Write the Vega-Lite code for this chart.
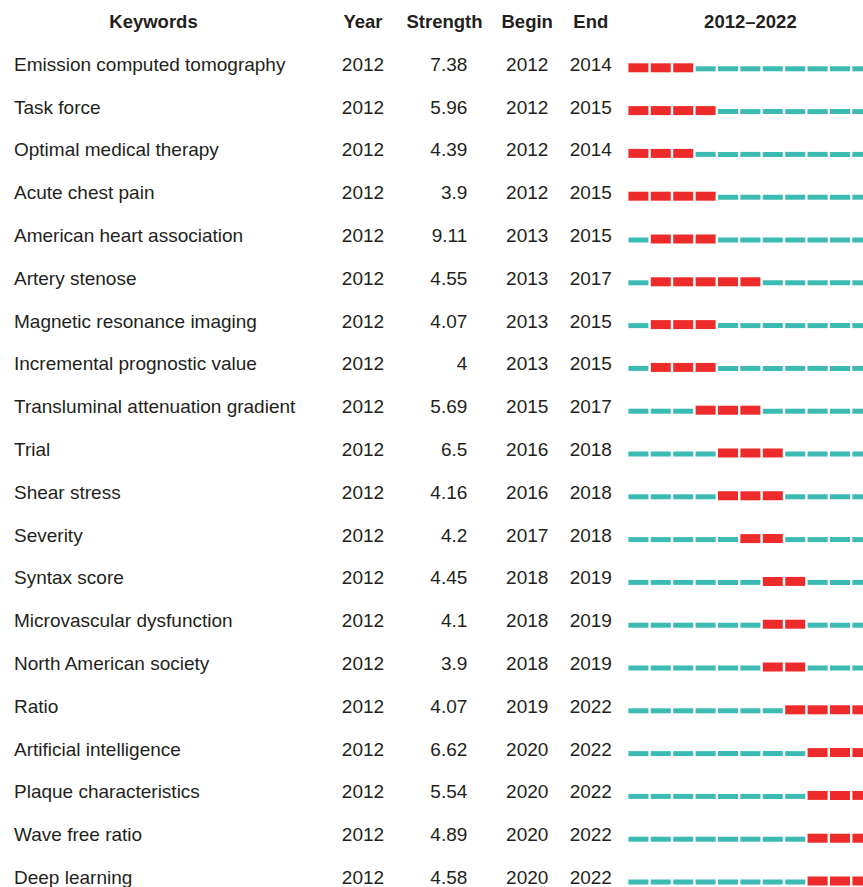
{
  "$schema": "https://vega.github.io/schema/vega-lite/v6.json",
  "padding": {"left": 14, "top": 0, "right": 0, "bottom": 0},
  "spacing": 0,
  "bounds": "flush",
  "background": "white",
  "config": {"view": {"stroke": null}, "text": {"font": "Liberation Sans", "color": "#231f20"}},
  "datasets": {
    "hdr": [
      {"keyword": "(header)", "col": "Keywords", "label": "Keywords"},
      {"keyword": "(header)", "col": "Year", "label": "Year"},
      {"keyword": "(header)", "col": "Strength", "label": "Strength"},
      {"keyword": "(header)", "col": "Begin", "label": "Begin"},
      {"keyword": "(header)", "col": "End", "label": "End"},
      {"keyword": "(header)", "col": "Timeline", "label": "2012–2022"}
    ],
    "kw": [
      {"keyword": "Emission computed tomography", "year": 2012, "strength": "7.38", "begin": 2012, "end": 2014, "years": [2012,2013,2014,2015,2016,2017,2018,2019,2020,2021,2022]},
      {"keyword": "Task force", "year": 2012, "strength": "5.96", "begin": 2012, "end": 2015, "years": [2012,2013,2014,2015,2016,2017,2018,2019,2020,2021,2022]},
      {"keyword": "Optimal medical therapy", "year": 2012, "strength": "4.39", "begin": 2012, "end": 2014, "years": [2012,2013,2014,2015,2016,2017,2018,2019,2020,2021,2022]},
      {"keyword": "Acute chest pain", "year": 2012, "strength": "3.9", "begin": 2012, "end": 2015, "years": [2012,2013,2014,2015,2016,2017,2018,2019,2020,2021,2022]},
      {"keyword": "American heart association", "year": 2012, "strength": "9.11", "begin": 2013, "end": 2015, "years": [2012,2013,2014,2015,2016,2017,2018,2019,2020,2021,2022]},
      {"keyword": "Artery stenose", "year": 2012, "strength": "4.55", "begin": 2013, "end": 2017, "years": [2012,2013,2014,2015,2016,2017,2018,2019,2020,2021,2022]},
      {"keyword": "Magnetic resonance imaging", "year": 2012, "strength": "4.07", "begin": 2013, "end": 2015, "years": [2012,2013,2014,2015,2016,2017,2018,2019,2020,2021,2022]},
      {"keyword": "Incremental prognostic value", "year": 2012, "strength": "4", "begin": 2013, "end": 2015, "years": [2012,2013,2014,2015,2016,2017,2018,2019,2020,2021,2022]},
      {"keyword": "Transluminal attenuation gradient", "year": 2012, "strength": "5.69", "begin": 2015, "end": 2017, "years": [2012,2013,2014,2015,2016,2017,2018,2019,2020,2021,2022]},
      {"keyword": "Trial", "year": 2012, "strength": "6.5", "begin": 2016, "end": 2018, "years": [2012,2013,2014,2015,2016,2017,2018,2019,2020,2021,2022]},
      {"keyword": "Shear stress", "year": 2012, "strength": "4.16", "begin": 2016, "end": 2018, "years": [2012,2013,2014,2015,2016,2017,2018,2019,2020,2021,2022]},
      {"keyword": "Severity", "year": 2012, "strength": "4.2", "begin": 2017, "end": 2018, "years": [2012,2013,2014,2015,2016,2017,2018,2019,2020,2021,2022]},
      {"keyword": "Syntax score", "year": 2012, "strength": "4.45", "begin": 2018, "end": 2019, "years": [2012,2013,2014,2015,2016,2017,2018,2019,2020,2021,2022]},
      {"keyword": "Microvascular dysfunction", "year": 2012, "strength": "4.1", "begin": 2018, "end": 2019, "years": [2012,2013,2014,2015,2016,2017,2018,2019,2020,2021,2022]},
      {"keyword": "North American society", "year": 2012, "strength": "3.9", "begin": 2018, "end": 2019, "years": [2012,2013,2014,2015,2016,2017,2018,2019,2020,2021,2022]},
      {"keyword": "Ratio", "year": 2012, "strength": "4.07", "begin": 2019, "end": 2022, "years": [2012,2013,2014,2015,2016,2017,2018,2019,2020,2021,2022]},
      {"keyword": "Artificial intelligence", "year": 2012, "strength": "6.62", "begin": 2020, "end": 2022, "years": [2012,2013,2014,2015,2016,2017,2018,2019,2020,2021,2022]},
      {"keyword": "Plaque characteristics", "year": 2012, "strength": "5.54", "begin": 2020, "end": 2022, "years": [2012,2013,2014,2015,2016,2017,2018,2019,2020,2021,2022]},
      {"keyword": "Wave free ratio", "year": 2012, "strength": "4.89", "begin": 2020, "end": 2022, "years": [2012,2013,2014,2015,2016,2017,2018,2019,2020,2021,2022]},
      {"keyword": "Deep learning", "year": 2012, "strength": "4.58", "begin": 2020, "end": 2022, "years": [2012,2013,2014,2015,2016,2017,2018,2019,2020,2021,2022]}
    ]
  },
  "hconcat": [
    {
      "width": 279, "height": 887,
      "layer": [
        {"data": {"name": "hdr"}, "transform": [{"filter": "datum.col == 'Keywords'"}],
         "mark": {"type": "text", "fontWeight": "bold", "fontSize": 18.5},
         "encoding": {"y": {"field": "keyword", "type": "nominal", "scale": {"type": "point", "padding": 0, "range": [22, 878], "domain": ["(header)", "Emission computed tomography", "Task force", "Optimal medical therapy", "Acute chest pain", "American heart association", "Artery stenose", "Magnetic resonance imaging", "Incremental prognostic value", "Transluminal attenuation gradient", "Trial", "Shear stress", "Severity", "Syntax score", "Microvascular dysfunction", "North American society", "Ratio", "Artificial intelligence", "Plaque characteristics", "Wave free ratio", "Deep learning"]}, "axis": null}, "text": {"field": "label"}}},
        {"data": {"name": "kw"},
         "mark": {"type": "text", "align": "left", "fontSize": 19},
         "encoding": {"x": {"value": 0}, "y": {"field": "keyword", "type": "nominal"}, "text": {"field": "keyword"}}}
      ]
    },
    {
      "width": 140, "height": 887,
      "layer": [
        {"data": {"name": "hdr"}, "transform": [{"filter": "datum.col == 'Year'"}],
         "mark": {"type": "text", "fontWeight": "bold", "fontSize": 18.5},
         "encoding": {"y": {"field": "keyword", "type": "nominal", "scale": {"type": "point", "padding": 0, "range": [22, 878], "domain": ["(header)", "Emission computed tomography", "Task force", "Optimal medical therapy", "Acute chest pain", "American heart association", "Artery stenose", "Magnetic resonance imaging", "Incremental prognostic value", "Transluminal attenuation gradient", "Trial", "Shear stress", "Severity", "Syntax score", "Microvascular dysfunction", "North American society", "Ratio", "Artificial intelligence", "Plaque characteristics", "Wave free ratio", "Deep learning"]}, "axis": null}, "text": {"field": "label"}}},
        {"data": {"name": "kw"},
         "mark": {"type": "text", "fontSize": 19},
         "encoding": {"y": {"field": "keyword", "type": "nominal"}, "text": {"field": "year", "type": "nominal"}}}
      ]
    },
    {
      "width": 23, "height": 887,
      "layer": [
        {"data": {"name": "hdr"}, "transform": [{"filter": "datum.col == 'Strength'"}],
         "mark": {"type": "text", "fontWeight": "bold", "fontSize": 18.5},
         "encoding": {"y": {"field": "keyword", "type": "nominal", "scale": {"type": "point", "padding": 0, "range": [22, 878], "domain": ["(header)", "Emission computed tomography", "Task force", "Optimal medical therapy", "Acute chest pain", "American heart association", "Artery stenose", "Magnetic resonance imaging", "Incremental prognostic value", "Transluminal attenuation gradient", "Trial", "Shear stress", "Severity", "Syntax score", "Microvascular dysfunction", "North American society", "Ratio", "Artificial intelligence", "Plaque characteristics", "Wave free ratio", "Deep learning"]}, "axis": null}, "text": {"field": "label"}}}
      ]
    },
    {
      "width": 11.3, "height": 887,
      "layer": [
        {"data": {"name": "kw"},
         "mark": {"type": "text", "align": "right", "fontSize": 19},
         "encoding": {"x": {"value": "width"}, "y": {"field": "keyword", "type": "nominal", "scale": {"type": "point", "padding": 0, "range": [22, 878], "domain": ["(header)", "Emission computed tomography", "Task force", "Optimal medical therapy", "Acute chest pain", "American heart association", "Artery stenose", "Magnetic resonance imaging", "Incremental prognostic value", "Transluminal attenuation gradient", "Trial", "Shear stress", "Severity", "Syntax score", "Microvascular dysfunction", "North American society", "Ratio", "Artificial intelligence", "Plaque characteristics", "Wave free ratio", "Deep learning"]}, "axis": null}, "text": {"field": "strength", "type": "nominal"}}}
      ]
    },
    {
      "width": 118.4, "height": 887,
      "layer": [
        {"data": {"name": "hdr"}, "transform": [{"filter": "datum.col == 'Begin'"}],
         "mark": {"type": "text", "fontWeight": "bold", "fontSize": 18.5},
         "encoding": {"y": {"field": "keyword", "type": "nominal", "scale": {"type": "point", "padding": 0, "range": [22, 878], "domain": ["(header)", "Emission computed tomography", "Task force", "Optimal medical therapy", "Acute chest pain", "American heart association", "Artery stenose", "Magnetic resonance imaging", "Incremental prognostic value", "Transluminal attenuation gradient", "Trial", "Shear stress", "Severity", "Syntax score", "Microvascular dysfunction", "North American society", "Ratio", "Artificial intelligence", "Plaque characteristics", "Wave free ratio", "Deep learning"]}, "axis": null}, "text": {"field": "label"}}},
        {"data": {"name": "kw"},
         "mark": {"type": "text", "fontSize": 19},
         "encoding": {"y": {"field": "keyword", "type": "nominal"}, "text": {"field": "begin", "type": "nominal"}}}
      ]
    },
    {
      "width": 7.6, "height": 887,
      "layer": [
        {"data": {"name": "hdr"}, "transform": [{"filter": "datum.col == 'End'"}],
         "mark": {"type": "text", "fontWeight": "bold", "fontSize": 18.5},
         "encoding": {"y": {"field": "keyword", "type": "nominal", "scale": {"type": "point", "padding": 0, "range": [22, 878], "domain": ["(header)", "Emission computed tomography", "Task force", "Optimal medical therapy", "Acute chest pain", "American heart association", "Artery stenose", "Magnetic resonance imaging", "Incremental prognostic value", "Transluminal attenuation gradient", "Trial", "Shear stress", "Severity", "Syntax score", "Microvascular dysfunction", "North American society", "Ratio", "Artificial intelligence", "Plaque characteristics", "Wave free ratio", "Deep learning"]}, "axis": null}, "text": {"field": "label"}}},
        {"data": {"name": "kw"},
         "mark": {"type": "text", "fontSize": 19},
         "encoding": {"y": {"field": "keyword", "type": "nominal"}, "text": {"field": "end", "type": "nominal"}}}
      ]
    },
    {
      "width": 269.7, "height": 887,
      "layer": [
        {"data": {"name": "hdr"}, "transform": [{"filter": "datum.col == 'Timeline'"}],
         "mark": {"type": "text", "fontWeight": "bold", "fontSize": 18.5},
         "encoding": {
           "x": {"datum": 2017, "type": "ordinal", "scale": {"type": "band", "domain": [2012,2013,2014,2015,2016,2017,2018,2019,2020,2021,2022], "range": [33.4, 277.4], "paddingInner": 0.107, "paddingOuter": 0}, "axis": null},
           "y": {"field": "keyword", "type": "nominal", "scale": {"type": "point", "padding": 0, "range": [22, 878], "domain": ["(header)", "Emission computed tomography", "Task force", "Optimal medical therapy", "Acute chest pain", "American heart association", "Artery stenose", "Magnetic resonance imaging", "Incremental prognostic value", "Transluminal attenuation gradient", "Trial", "Shear stress", "Severity", "Syntax score", "Microvascular dysfunction", "North American society", "Ratio", "Artificial intelligence", "Plaque characteristics", "Wave free ratio", "Deep learning"]}, "axis": null},
           "text": {"field": "label"}}},
        {"data": {"name": "kw"},
         "transform": [{"flatten": ["years"]}, {"filter": "datum.years < datum.begin || datum.years > datum.end"}],
         "mark": {"type": "rect", "height": 5, "yOffset": 4, "color": "#3bbbb3", "clip": true},
         "encoding": {"x": {"field": "years", "type": "ordinal"}, "y": {"field": "keyword", "type": "nominal"}}},
        {"data": {"name": "kw"},
         "transform": [{"flatten": ["years"]}, {"filter": "datum.years >= datum.begin && datum.years <= datum.end"}],
         "mark": {"type": "rect", "height": 9, "yOffset": 3, "color": "#ee2b2b", "clip": true},
         "encoding": {"x": {"field": "years", "type": "ordinal"}, "y": {"field": "keyword", "type": "nominal"}}}
      ]
    }
  ]
}
